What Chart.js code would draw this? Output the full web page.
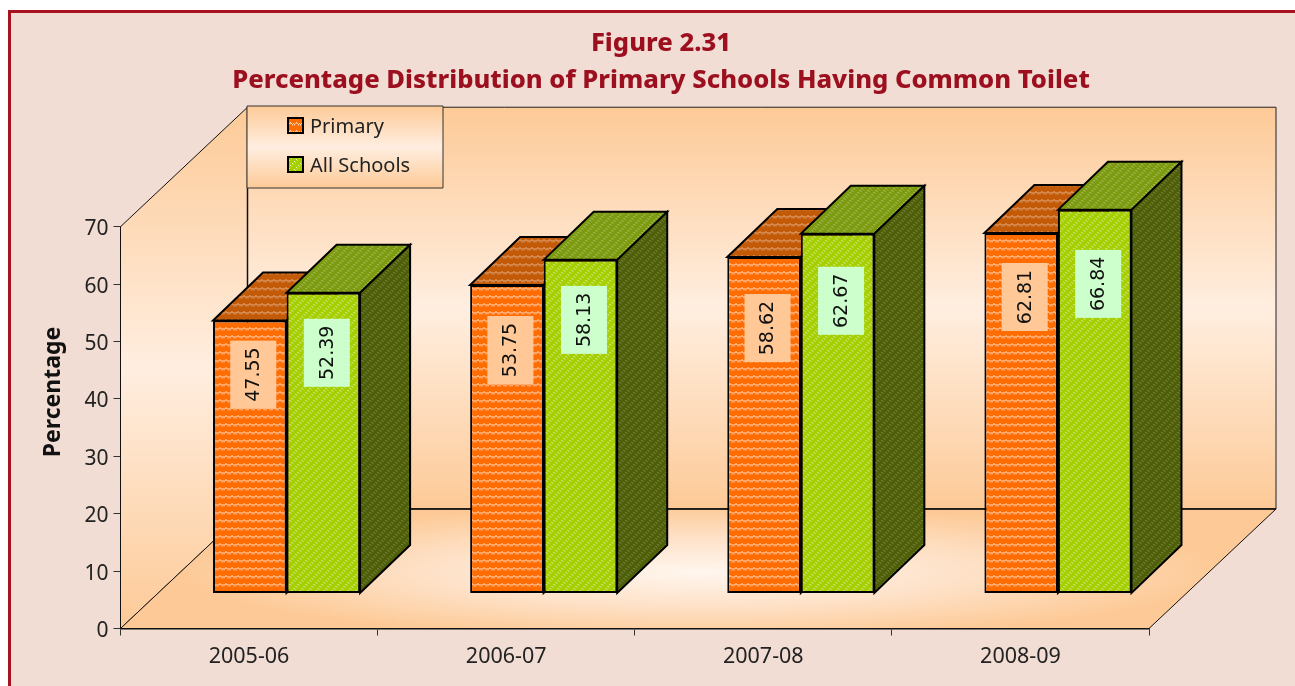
<!DOCTYPE html>
<html>
<head>
<meta charset="utf-8">
<title>Figure 2.31</title>
<script src="https://cdn.jsdelivr.net/npm/chart.js@4"></script>
<style>
  html, body { margin: 0; padding: 0; background: #fff; overflow: hidden; }
  #wrap { width: 1295px; height: 686px; }
</style>
</head>
<body>
<div id="wrap"><canvas id="chart"></canvas></div>
<script>
'use strict';

const years = ['2005-06', '2006-07', '2007-08', '2008-09'];
const primary = [47.55, 53.75, 58.62, 62.81];
const allSchools = [52.39, 58.13, 62.67, 66.84];
const titleLines = ['Figure 2.31', 'Percentage Distribution of Primary Schools Having Common Toilet'];
const yAxisTitle = 'Percentage';

// how far below the bar top each hand placed value label starts
const labelDrop = [[20, 31, 37, 30], [26, 26, 33, 40]];

const wallDepth = { x: 127, y: -119.5 };
const barShift = { x: 37.5, y: -35 };
const barDepth = { x: 50, y: -48 };

const fontName = '"Noto Sans", "Open Sans", sans-serif';
const numFont = '"DejaVu Sans", sans-serif';

// little pixel tiles for the office style fills
function zigzag(base, light, dim) {
  let c = document.createElement('canvas');
  c.width = 6; c.height = 8;
  let g = c.getContext('2d');
  g.fillStyle = base;
  g.fillRect(0, 0, 6, 8);
  g.fillStyle = dim;
  [[0, 5], [2, 3], [4, 5]].forEach(p => g.fillRect(p[0], p[1], 1, 1));
  g.fillStyle = light;
  [[0, 4], [1, 3], [2, 2], [3, 3], [4, 4], [5, 3]].forEach(p => g.fillRect(p[0], p[1], 1, 1));
  return g.createPattern(c, 'repeat');
}

function diagonal(base, light, dim) {
  let c = document.createElement('canvas');
  c.width = 8; c.height = 8;
  let g = c.getContext('2d');
  g.fillStyle = base;
  g.fillRect(0, 0, 8, 8);
  for (let i = 0; i < 8; i++) {
    g.fillStyle = light;
    if (i % 2 == 0) g.fillRect(i, 7 - i, 1, 1);
    g.fillStyle = dim;
    if (i % 2 == 1) g.fillRect(i, (9 - i) % 8, 1, 1);
  }
  return g.createPattern(c, 'repeat');
}

const fills = [
  {
    front: zigzag('#ff6c02', '#ffd9bd', '#ff9c5a'),
    top: zigzag('#c25a08', '#e6ad82', '#d07f3c'),
    side: zigzag('#c25a08', '#e6ad82', '#d07f3c'),
    note: '#ffc896'
  },
  {
    front: diagonal('#a5cf00', '#e8f6bc', '#cbe272'),
    top: diagonal('#7d9b10', '#bccd84', '#9fb54c'),
    side: diagonal('#4f5f08', '#8c9862', '#6e7d3a'),
    note: '#ccffcc'
  }
];

function poly(ctx, pts, fill, strokeW, stroke) {
  ctx.beginPath();
  pts.forEach((p, i) => i ? ctx.lineTo(p[0], p[1]) : ctx.moveTo(p[0], p[1]));
  ctx.closePath();
  if (fill) {
    ctx.fillStyle = fill;
    ctx.fill();
  }
  if (strokeW) {
    ctx.lineWidth = strokeW;
    ctx.strokeStyle = stroke || '#000';
    ctx.stroke();
  }
}

function bandGradient(ctx, y0, y1) {
  let g = ctx.createLinearGradient(0, y0, 0, y1);
  g.addColorStop(0, '#fdca97');
  g.addColorStop(0.5, '#ffeee0');
  g.addColorStop(1, '#fdca97');
  return g;
}

function drawWalls(chart) {
  const ctx = chart.ctx;
  const a = chart.chartArea;
  const d = wallDepth;
  const floor = [[a.left, a.bottom], [a.right, a.bottom], [a.right + d.x, a.bottom + d.y], [a.left + d.x, a.bottom + d.y]];

  poly(ctx, [[a.left + d.x, a.top + d.y], [a.right + d.x, a.top + d.y], [a.right + d.x, a.bottom + d.y], [a.left + d.x, a.bottom + d.y]],
    bandGradient(ctx, a.top + d.y, a.bottom + d.y), 1, '#222');
  poly(ctx, [[a.left, a.top], [a.left + d.x, a.top + d.y], [a.left + d.x, a.bottom + d.y], [a.left, a.bottom]],
    bandGradient(ctx, a.top + d.y, a.bottom), 1, '#111');

  // floor is lighter in the middle, like a path gradient
  ctx.save();
  poly(ctx, floor, '#fdca97');
  ctx.clip();
  ctx.translate(700, 572);
  ctx.scale(520, 66);
  let g = ctx.createRadialGradient(0, 0, 0, 0, 0, 1);
  g.addColorStop(0, '#fff6ee');
  g.addColorStop(0.5, '#fee2c9');
  g.addColorStop(1, '#fdca97');
  ctx.fillStyle = g;
  ctx.fillRect(-2, -2, 4, 4);
  ctx.restore();
  poly(ctx, floor, null, 1, '#111');

  // back edge of the floor and corner post are heavier
  ctx.beginPath();
  ctx.moveTo(a.left + d.x, a.top + d.y);
  ctx.lineTo(a.left + d.x, a.bottom + d.y);
  ctx.lineTo(a.right + d.x, a.bottom + d.y);
  ctx.lineWidth = 1.5;
  ctx.strokeStyle = '#111';
  ctx.stroke();
}

function drawBoxes(chart) {
  const ctx = chart.ctx;
  ctx.save();
  ctx.translate(barShift.x, barShift.y);
  [0, 1].forEach(ds => {
    chart.getDatasetMeta(ds).data.forEach(bar => {
      const left = bar.x - bar.width / 2;
      const right = bar.x + bar.width / 2;
      const dx = barDepth.x, dy = barDepth.y;
      ctx.lineJoin = 'miter';
      poly(ctx, [[left, bar.y], [left + dx, bar.y + dy], [right + dx, bar.y + dy], [right, bar.y]], fills[ds].top, 2);
      poly(ctx, [[right, bar.y], [right + dx, bar.y + dy], [right + dx, bar.base + dy], [right, bar.base]], fills[ds].side, 2);
      bar.draw(ctx);
    });
  });
  ctx.restore();
}

function drawNotes(chart) {
  const ctx = chart.ctx;
  [0, 1].forEach(ds => {
    chart.getDatasetMeta(ds).data.forEach((bar, i) => {
      const cx = bar.x + barShift.x + 3.5;
      const top = bar.y + barShift.y + labelDrop[ds][i];
      ctx.fillStyle = fills[ds].note;
      ctx.fillRect(cx - 23, top, 46, 68);
      ctx.save();
      ctx.translate(cx, top + 34);
      ctx.rotate(-Math.PI / 2);
      ctx.fillStyle = '#111';
      ctx.font = '19px ' + numFont;
      ctx.textAlign = 'center';
      ctx.textBaseline = 'middle';
      ctx.fillText(chart.data.datasets[ds].data[i].toFixed(2), 0, 1);
      ctx.restore();
    });
  });
}

function drawLegendBox(chart) {
  const ctx = chart.ctx;
  poly(ctx, [[247, 106], [443, 106], [443, 188], [247, 188]], bandGradient(ctx, 106, 188), 1, '#333');
  chart.data.datasets.forEach((set, i) => {
    const y = 126 + i * 39;
    ctx.fillStyle = set.backgroundColor;
    ctx.fillRect(288, y - 8, 15, 15);
    ctx.lineWidth = 2;
    ctx.strokeStyle = '#000';
    ctx.strokeRect(288, y - 8, 15, 15);
    ctx.fillStyle = '#222';
    ctx.font = '20px ' + fontName;
    ctx.textAlign = 'left';
    ctx.textBaseline = 'middle';
    ctx.fillText(set.label, 310, y + 1);
  });
}

function drawYTitle(chart) {
  const ctx = chart.ctx;
  ctx.save();
  ctx.translate(53, 392);
  ctx.rotate(-Math.PI / 2);
  ctx.fillStyle = '#111';
  ctx.font = 'bold 23px ' + fontName;
  ctx.textAlign = 'center';
  ctx.textBaseline = 'middle';
  ctx.fillText(yAxisTitle, 0, 0);
  ctx.restore();
}

const depthPlugin = {
  id: 'depth',
  afterLayout(chart) {
    // title sits over the whole panel, not over the plot
    chart.titleBlock.left = 27;
    chart.titleBlock.right = 1295;
  },
  beforeDraw(chart) {
    const ctx = chart.ctx;
    ctx.fillStyle = '#ffffff';
    ctx.fillRect(0, 0, 1295, 686);
    ctx.fillStyle = '#a6121f';
    ctx.fillRect(8, 10, 1287, 676);
    ctx.fillStyle = '#f1ddd3';
    ctx.fillRect(11, 13, 1284, 673);
  },
  beforeDatasetsDraw(chart) {
    drawWalls(chart);
    drawBoxes(chart);
    drawNotes(chart);
    drawLegendBox(chart);
    drawYTitle(chart);
  },
  beforeDatasetDraw() {
    return false;
  }
};

const data = {
  labels: years,
  datasets: [
    { label: 'Primary', data: primary, backgroundColor: fills[0].front, borderColor: '#000', borderWidth: 2, borderSkipped: false },
    { label: 'All Schools', data: allSchools, backgroundColor: fills[1].front, borderColor: '#000', borderWidth: 2, borderSkipped: false }
  ]
};

const config = {
  type: 'bar',
  data: data,
  plugins: [depthPlugin],
  options: {
    responsive: true,
    maintainAspectRatio: false,
    animation: false,
    devicePixelRatio: 1,
    categoryPercentage: 0.572,
    barPercentage: 1,
    layout: { padding: { left: 27, right: 146, top: 0, bottom: 0 } },
    plugins: {
      legend: { display: false },
      tooltip: { enabled: false },
      title: {
        display: true,
        text: titleLines,
        color: '#9c0f1f',
        font: { family: fontName, size: 25.6, weight: '800', lineHeight: 1.44 },
        padding: { top: 25, bottom: 128 }
      }
    },
    scales: {
      x: {
        afterFit(scale) { scale.height = 57.5; },
        border: { color: '#111', width: 1.5 },
        grid: { drawOnChartArea: false, tickLength: 7, color: '#333' },
        ticks: { color: '#222', font: { family: fontName, size: 21.5 }, padding: 8, maxRotation: 0 }
      },
      y: {
        min: 0,
        max: 70,
        afterFit(scale) { scale.width = 93.5; },
        border: { color: '#111', width: 1.5 },
        grid: { drawOnChartArea: false, tickLength: 7, color: '#333' },
        ticks: { stepSize: 10, color: '#222', font: { family: fontName, size: 21 }, padding: 5, labelOffset: 2.5 }
      }
    }
  }
};

new Chart(document.getElementById('chart'), config);
</script>
</body>
</html>
